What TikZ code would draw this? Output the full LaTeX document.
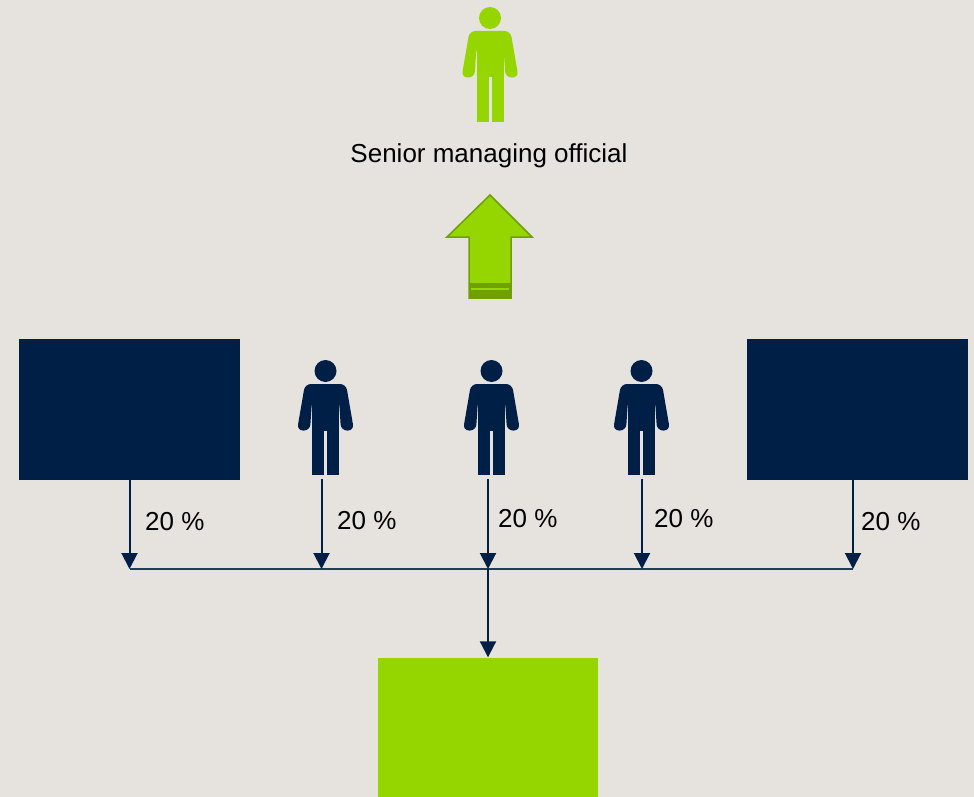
\documentclass[tikz,border=0pt]{standalone}
\usepackage{fontspec}
\setmainfont{Liberation Sans}
\usetikzlibrary{arrows.meta}
\definecolor{bg}{HTML}{E6E2DE}
\definecolor{navy}{HTML}{001F46}
\definecolor{limeg}{HTML}{96D600}
\definecolor{darkg}{HTML}{6FA000}
\tikzset{
  person/.pic={
    \fill (0,11) circle[radius=11pt];
    \fill (-13.5,35) rectangle (13.5,70.5);
    \fill (-13.5,70) rectangle (-1.5,115);
    \fill (1.5,70) rectangle (13.5,115);
    \fill[rounded corners=6pt] (-28.5,70.5) -- (-20.5,24) -- (20.5,24) -- (28.5,70.5) -- (15.5,70.5) -- (13.5,40) -- (-13.5,40) -- (-15.5,70.5) -- cycle;
  },
  navybox/.style={fill=navy, inner sep=0pt, minimum width=221pt, minimum height=141pt},
  greenbox/.style={fill=limeg, inner sep=0pt, minimum width=220pt, minimum height=140pt},
  lbl/.style={inner sep=0pt, font=\fontsize{26}{31}\selectfont, text=black},
  conn/.style={draw=navy, line width=2pt, -{Triangle[width=16pt,length=16pt]}},
  hline/.style={draw=navy!85!bg, line width=1.6pt}
}
\begin{document}
\begin{tikzpicture}[x=1pt,y=-1pt]
\fill[bg] (0,0) rectangle (974,797);
\useasboundingbox (0,0) rectangle (974,797);

% top person and title
\pic[fill=limeg] at (490,7) {person};
\node[lbl, anchor=base] (title) at (489,162) {Senior managing official};

% green up arrow
\fill[limeg, draw=darkg, line width=1.5pt] (490,195) -- (532,237) -- (511,237) -- (511,298) -- (469,298) -- (469,237) -- (447,237) -- cycle;
\fill[darkg] (468.5,283) rectangle (511.5,298.5);
\fill[limeg] (471,288) rectangle (509,290.3);
\coordinate (uparrow) at (490,246);

% boxes
\node[navybox] (boxL) at (129.5,409.5) {};
\node[navybox] (boxR) at (857,409.5) {};
\node[greenbox] (boxG) at (487.5,727.5) {};

% persons
\pic[fill=navy] at (325.5,360) {person};
\pic[fill=navy] at (491.5,360) {person};
\pic[fill=navy] at (641.5,360) {person};

% connector coordinates
\coordinate (s1) at (129.5,480);
\coordinate (s2) at (321.5,479);
\coordinate (s3) at (488,479);
\coordinate (s4) at (642,479);
\coordinate (s5) at (853,480);
\coordinate (e1) at (129.5,569);
\coordinate (e2) at (321.5,569);
\coordinate (e3) at (488,569);
\coordinate (e4) at (642,569);
\coordinate (e5) at (853,569);

\draw[hline] (e1) -- (e5);
\draw[conn] (s1) -- (e1);
\draw[conn] (s2) -- (e2);
\draw[conn] (s3) -- (e3);
\draw[conn] (s4) -- (e4);
\draw[conn] (s5) -- (e5);
\draw[conn] (e3) -- (boxG.north -| e3);

% labels
\node[lbl, anchor=base west] (l1) at (145,530) {20 \%};
\node[lbl, anchor=base west] (l2) at (337,529) {20 \%};
\node[lbl, anchor=base west] (l3) at (498,527) {20 \%};
\node[lbl, anchor=base west] (l4) at (654,527) {20 \%};
\node[lbl, anchor=base west] (l5) at (861,530) {20 \%};
\end{tikzpicture}
\end{document}
